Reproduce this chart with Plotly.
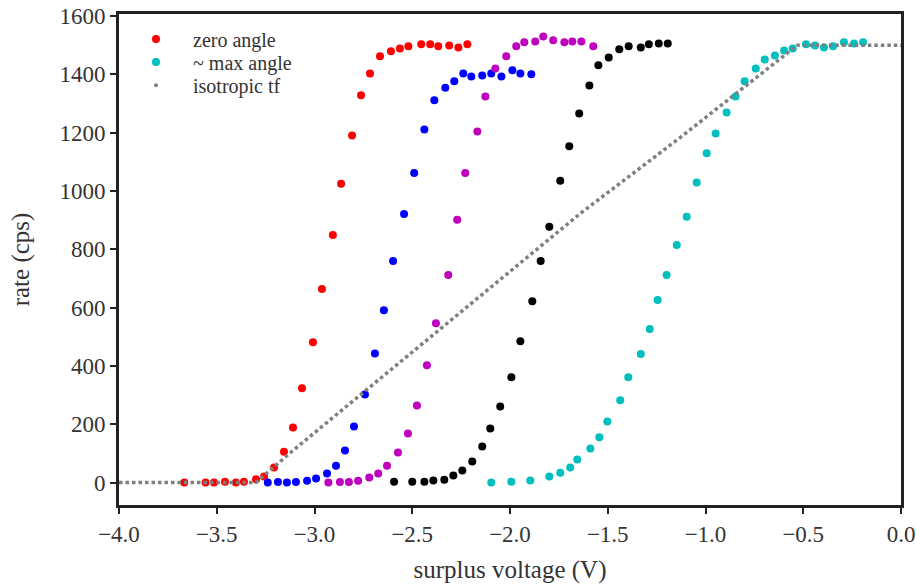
import plotly.graph_objects as go

# Count-rate scans versus surplus voltage
zero_angle_v = [-3.666, -3.557, -3.514, -3.458, -3.402, -3.361, -3.299, -3.258, -3.207, -3.156,
                -3.110, -3.064, -3.008, -2.962, -2.906, -2.864, -2.808, -2.762, -2.716, -2.665,
                -2.609, -2.563, -2.520, -2.454, -2.408, -2.367, -2.311, -2.264, -2.218]
zero_angle_rate = [0, 0, 0, 3, 0, 3, 11, 21, 52, 106,
                   189, 323, 481, 664, 849, 1025, 1190, 1328, 1403, 1462,
                   1479, 1489, 1496, 1503, 1503, 1496, 1499, 1492, 1503]

blue_v = [-3.239, -3.187, -3.141, -3.095, -3.038, -2.992, -2.936, -2.890, -2.844, -2.798,
          -2.742, -2.691, -2.645, -2.598, -2.542, -2.490, -2.438, -2.387, -2.331, -2.285,
          -2.239, -2.198, -2.142, -2.096, -2.044, -1.988, -1.947, -1.891]
blue_rate = [0, 2, 0, 2, 6, 14, 31, 58, 110, 192,
             302, 443, 591, 760, 921, 1062, 1211, 1311, 1354, 1376,
             1403, 1393, 1396, 1403, 1393, 1414, 1403, 1400]

magenta_v = [-2.929, -2.870, -2.824, -2.777, -2.720, -2.674, -2.629, -2.573, -2.522, -2.476,
             -2.425, -2.379, -2.316, -2.270, -2.229, -2.167, -2.126, -2.075, -2.019, -1.968,
             -1.927, -1.871, -1.830, -1.779, -1.722, -1.681, -1.635, -1.574]
magenta_rate = [0, 2, 2, 6, 17, 31, 58, 103, 168, 264,
                402, 546, 712, 901, 1062, 1204, 1324, 1420, 1462, 1496,
                1510, 1513, 1530, 1517, 1510, 1513, 1513, 1496]

black_v = [-2.593, -2.500, -2.438, -2.392, -2.336, -2.290, -2.244, -2.193, -2.142, -2.101,
           -2.050, -1.993, -1.947, -1.886, -1.843, -1.799, -1.743, -1.697, -1.646, -1.594,
           -1.548, -1.495, -1.441, -1.393, -1.331, -1.290, -1.239, -1.193]
black_rate = [3, 3, 3, 7, 10, 24, 41, 72, 124, 185,
              261, 361, 485, 622, 760, 877, 1035, 1153, 1266, 1362,
              1431, 1458, 1486, 1496, 1492, 1503, 1506, 1506]

max_angle_v = [-2.096, -1.993, -1.896, -1.799, -1.743, -1.692, -1.656, -1.589, -1.543, -1.502,
               -1.436, -1.395, -1.331, -1.285, -1.245, -1.199, -1.147, -1.096, -1.045, -0.994,
               -0.948, -0.892, -0.846, -0.800, -0.743, -0.697, -0.645, -0.598, -0.554, -0.486,
               -0.440, -0.394, -0.348, -0.292, -0.240, -0.194]
max_angle_rate = [0, 3, 7, 21, 34, 52, 79, 117, 155, 209,
                  282, 361, 441, 527, 626, 712, 815, 912, 1029, 1129,
                  1197, 1269, 1324, 1376, 1420, 1451, 1465, 1482, 1489, 1503,
                  1499, 1492, 1496, 1510, 1506, 1510]

# isotropic transfer function (breakpoints of the curve)
iso_v = [-4.0, -3.30, -3.11, -2.068, -1.642, -1.130, -0.866, -0.602, -0.53, 0.0]
iso_rate = [0, 0, 110, 689, 922, 1183, 1321, 1460, 1500, 1500]

xtick_vals = [-4.0, -3.5, -3.0, -2.5, -2.0, -1.5, -1.0, -0.5, 0.0]
ytick_vals = [0, 200, 400, 600, 800, 1000, 1200, 1400, 1600]

FONT = "Liberation Serif, Times New Roman, serif"
TXT = "#333333"

fig = go.Figure()

def dots(x, y, color, name=None, legend=None):
    fig.add_trace(go.Scatter(
        x=x, y=y, mode="markers", name=name or "",
        showlegend=name is not None, legend=legend or "legend",
        marker=dict(color=color, size=8, line=dict(width=0)),
    ))

dots(zero_angle_v, zero_angle_rate, "#ff0000", "zero angle", "legend")
dots(blue_v, blue_rate, "#0000ff")
dots(magenta_v, magenta_rate, "#bf00bf")
dots(black_v, black_rate, "#000000")
dots(max_angle_v, max_angle_rate, "#00bfbf", "~ max angle", "legend2")

fig.add_trace(go.Scatter(
    x=iso_v, y=iso_rate, mode="lines", showlegend=False,
    line=dict(color="#808080", width=3.5, dash="3.5px,3px"),
))
# legend entry for the isotropic curve, shown as a small dot
fig.add_trace(go.Scatter(
    x=[None], y=[None], mode="markers", name="isotropic tf", legend="legend3",
    marker=dict(color="#808080", size=4),
))

axis_style = dict(
    showgrid=False, zeroline=False, showline=True, mirror=True,
    linecolor="#222222", linewidth=3,
    ticks="outside", ticklen=6, tickwidth=1.5, tickcolor="#222222",
    tickfont=dict(family=FONT, size=23, color=TXT),
)

fig.update_xaxes(
    range=[-4.0, 0.0], tickmode="array", tickvals=xtick_vals,
    ticktext=[f"{v:.1f}".replace("-", "\u2212") for v in xtick_vals],
    title=dict(text="surplus voltage (V)", font=dict(family=FONT, size=25, color=TXT), standoff=15),
    **axis_style,
)
fig.update_yaxes(
    range=[-77, 1607], tickmode="array", tickvals=ytick_vals,
    ticktext=[str(v) for v in ytick_vals],
    title=dict(text="rate (cps)", font=dict(family=FONT, size=25, color=TXT), standoff=23),
    **axis_style,
)

def legend_box(y):
    return dict(
        x=0.0, y=y, xanchor="left", yanchor="middle",
        bgcolor="rgba(0,0,0,0)", borderwidth=0,
        font=dict(family=FONT, size=20, color=TXT),
        itemwidth=64,
    )

fig.update_layout(
    width=917, height=585,
    font=dict(family=FONT, size=23, color=TXT),
    margin=dict(l=119, r=16, t=14, b=80, autoexpand=False),
    plot_bgcolor="white", paper_bgcolor="white",
    legend=legend_box(0.949),
    legend2=legend_box(0.902),
    legend3=legend_box(0.855),
)

fig.write_html("out.html")
